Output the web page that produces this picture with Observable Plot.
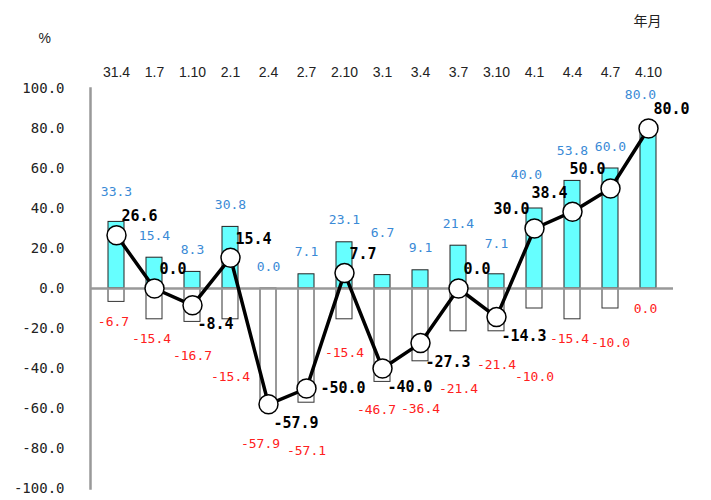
<!DOCTYPE html>
<html>
<head>
<meta charset="utf-8">
<script src="https://cdn.jsdelivr.net/npm/d3@7"></script>
<script src="https://cdn.jsdelivr.net/npm/@observablehq/plot@0.6"></script>
<style>
  body { margin: 0; background: #fff; }
</style>
</head>
<body>
<div id="chart"></div>
<script>
const categories = ["31.4","1.7","1.10","2.1","2.4","2.7","2.10","3.1","3.4","3.7","3.10","4.1","4.4","4.7","4.10"];
const upValues   = [33.3, 15.4, 8.3, 30.8, 0.0, 7.1, 23.1, 6.7, 9.1, 21.4, 7.1, 40.0, 53.8, 60.0, 80.0];
const downValues = [-6.7, -15.4, -16.7, -15.4, -57.9, -57.1, -15.4, -46.7, -36.4, -21.4, -21.4, -10.0, -15.4, -10.0, 0.0];
const diValues   = [26.6, 0.0, -8.4, 15.4, -57.9, -50.0, 7.7, -40.0, -27.3, 0.0, -14.3, 30.0, 38.4, 50.0, 80.0];
const yTicks = [100, 80, 60, 40, 20, 0, -20, -40, -60, -80, -100];

const data = categories.map((c, i) => ({cat: c, up: upValues[i], down: downValues[i], di: diValues[i]}));
const fmt = v => v.toFixed(1);
const mono = "'DejaVu Sans Mono', monospace";
const W = 711, H = 500;
const DOT_R = 9.5;

const baseOptions = {
  width: W,
  height: H,
  marginLeft: 90,
  marginRight: 38,
  marginTop: 88,
  marginBottom: 12,
  style: {fontFamily: "'Liberation Sans', Arial, sans-serif", fontSize: "14px", background: "#fff"},
  x: {type: "band", domain: categories, paddingInner: 0.58, paddingOuter: 0.29, label: null},
  y: {domain: [-100, 100], label: null}
};

const baseMarks = [
  Plot.axisY({ticks: yTicks, tickFormat: fmt, tickSize: 0, tickPadding: 26, fontFamily: mono, fontSize: 14, fill: "#222"}),
  Plot.axisX({anchor: "top", tickSize: 0, tickPadding: 12, fontSize: 14, fill: "#222", label: null}),
  Plot.barY(data, {x: "cat", y: "up", fill: "#66ffff", stroke: "#222", strokeWidth: 1}),
  Plot.barY(data, {x: "cat", y: "down", fill: "#fff", stroke: "#333", strokeWidth: 1}),
  Plot.ruleY([0], {stroke: "#999", strokeWidth: 2.5}),
  Plot.frame({anchor: "left", stroke: "#999", strokeWidth: 2.5}),
  Plot.line(data, {x: "cat", y: "di", stroke: "#000", strokeWidth: 3.5}),
  Plot.dot(data, {x: "cat", y: "di", r: DOT_R, fill: "#fff", stroke: "#000", strokeWidth: 1.5})
];

// Preliminary render to obtain the scales for label placement
const pre = Plot.plot({...baseOptions, marks: baseMarks});
const sx = pre.scale("x"), sy = pre.scale("y");
const bw = sx.bandwidth;
const cx = c => sx.apply(c) + bw / 2;
const py = v => sy.apply(v);

// obstacles
const dots = data.map(d => ({x: cx(d.cat), y: py(d.di)}));
const linePts = [];
for (let i = 0; i < dots.length - 1; i++) {
  const a = dots[i], b = dots[i + 1];
  const n = Math.ceil(Math.hypot(b.x - a.x, b.y - a.y));
  for (let k = 0; k <= n; k++) linePts.push({x: a.x + (b.x - a.x) * k / n, y: a.y + (b.y - a.y) * k / n});
}
const bars = [];
data.forEach(d => {
  const x0 = sx.apply(d.cat), x1 = x0 + bw;
  bars.push({x0, x1, y0: py(d.up), y1: py(0)});
  bars.push({x0, x1, y0: py(0), y1: py(d.down)});
});
const placed = [];
function overlap(a, b) {
  const w = Math.min(a.x1, b.x1) - Math.max(a.x0, b.x0);
  const h = Math.min(a.y1, b.y1) - Math.max(a.y0, b.y0);
  return w > 0 && h > 0 ? w * h : 0;
}
function cost(box) {
  let c = 0;
  for (const p of placed) c += 60 * overlap(box, {x0: p.x0 - 2, x1: p.x1 + 2, y0: p.y0 - 1, y1: p.y1 + 1});
  const core = {x0: box.x0, x1: box.x1, y0: box.y0 + 2, y1: box.y1 - 2};
  for (const d of dots) {
    const qx = Math.max(core.x0, Math.min(d.x, core.x1)), qy = Math.max(core.y0, Math.min(d.y, core.y1));
    if (Math.hypot(qx - d.x, qy - d.y) < DOT_R + 0.5) c += 300;
  }
  for (const p of linePts) if (p.x > core.x0 - 2 && p.x < core.x1 + 2 && p.y > core.y0 - 1 && p.y < core.y1 + 1) c += 10;
  for (const b of bars) c += 0.4 * overlap(core, b);
  if (box.x0 < 92) c += 50 * (92 - box.x0) * (box.y1 - box.y0);
  if (box.y0 < 80) c += 50 * (80 - box.y0) * (box.x1 - box.x0);
  if (box.x1 > W - 2) c += 50 * (box.x1 - W + 2) * (box.y1 - box.y0);
  if (box.y1 > H - 2) c += 50 * (box.y1 - H + 2) * (box.x1 - box.x0);
  return c;
}
function place(ax, ay, text, fs, cands) {
  const w = text.length * 0.6 * fs, h = fs * 1.2;
  let best = null, bestCost = Infinity;
  cands(w, h).forEach(([ox, oy], k) => {
    const box = {x0: ax + ox - w / 2, x1: ax + ox + w / 2, y0: ay + oy - h / 2, y1: ay + oy + h / 2};
    const c = cost(box) + k * 4;
    if (c < bestCost) { bestCost = c; best = {ox, oy, box}; }
  });
  placed.push(best.box);
  return best;
}

const labelMarks = [];
const upFS = 13, downFS = 13, diFS = 15;
// black labels beside the line points (placed first)
data.forEach(d => {
  const t = fmt(d.di);
  const p = place(cx(d.cat), py(d.di), t, diFS, (w, h) => [
    [w / 2 + 5, -19], [w / 2 + 5, 19], [-(w / 2 + 5), -19], [-(w / 2 + 5), 19],
    [0, -26], [w / 2 + 14, 0], [-(w / 2 + 14), 0], [0, 26], [0, -36], [0, 36],
    [w / 2 + 8, -30], [-(w / 2 + 8), -30], [w / 2 + 2, 30], [-(w / 2 + 8), 30]
  ]);
  labelMarks.push(Plot.text([d], {x: "cat", y: "di", text: () => t, dx: p.ox, dy: p.oy, fill: "#000", fontWeight: "bold", fontFamily: mono, fontSize: diFS}));
});
// blue labels above the positive bars
data.forEach(d => {
  const t = fmt(d.up);
  const p = place(cx(d.cat), py(d.up), t, upFS, () => [[0, -22], [0, -30], [-6, -24], [6, -24], [-8, -34], [0, -42], [-14, -44], [0, -52]]);
  labelMarks.push(Plot.text([d], {x: "cat", y: "up", text: () => t, dx: p.ox, dy: p.oy, fill: "#3a8ad6", fontFamily: mono, fontSize: upFS}));
});
// red labels below the negative bars
data.forEach(d => {
  const t = fmt(d.down);
  const p = place(cx(d.cat), py(d.down), t, downFS, () => [[-3, 20], [-6, 28], [0, 34], [-8, 40], [0, 48], [0, 58], [-10, 20], [4, 20], [-14, 26], [14, 26], [0, 68]]);
  labelMarks.push(Plot.text([d], {x: "cat", y: "down", text: () => t, dx: p.ox, dy: p.oy, fill: "#ff2020", fontFamily: mono, fontSize: downFS}));
});

const chart = Plot.plot({
  ...baseOptions,
  marks: [
    ...baseMarks,
    ...labelMarks,
    Plot.text(["%"], {frameAnchor: "top-left", dx: -52, dy: -55, fontSize: 14, fill: "#222"}),
    Plot.text(["年月"], {frameAnchor: "top-right", dx: -12, dy: -72, fontSize: 14, fill: "#222", fontFamily: "'Noto Sans CJK JP', sans-serif"})
  ]
});
document.getElementById("chart").appendChild(chart);
</script>
</body>
</html>
